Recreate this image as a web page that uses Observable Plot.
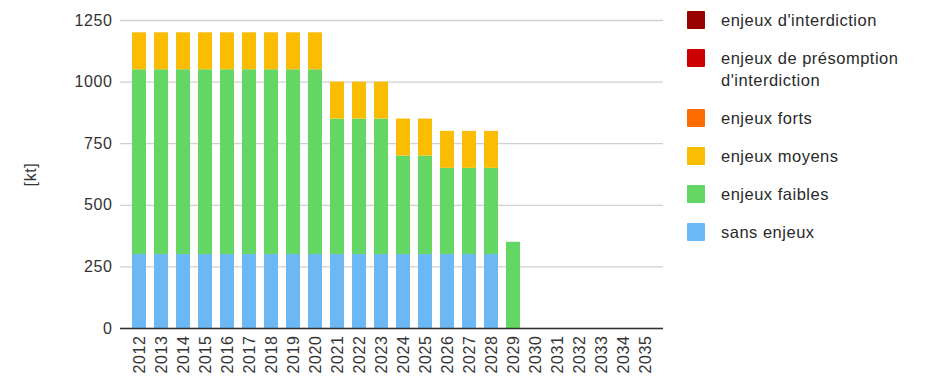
<!DOCTYPE html>
<html><head><meta charset="utf-8">
<script src="https://cdn.jsdelivr.net/npm/d3@7"></script>
<script src="https://cdn.jsdelivr.net/npm/@observablehq/plot@0.6"></script>
<style>
body{margin:0;background:#fff;font-family:"Liberation Sans",Arial,sans-serif;}
#wrap{position:relative;width:940px;height:381px;}
#chart{position:absolute;left:0;top:0;}
#legend{position:absolute;left:687px;top:9px;font-size:16.5px;letter-spacing:0.5px;color:#2a2a2a;}
.item{display:flex;align-items:flex-start;height:38px;}
.sw{width:18px;height:18px;margin-right:16px;margin-top:2px;flex:none;border-radius:1px;}
.lbl{line-height:22px;}
</style></head>
<body><div id="wrap"><div id="chart"></div><div id="legend"></div></div>
<script>
const years = ["2012","2013","2014","2015","2016","2017","2018","2019","2020","2021","2022","2023","2024","2025","2026","2027","2028","2029","2030","2031","2032","2033","2034","2035"];
const series = ["sans enjeux","enjeux faibles","enjeux moyens","enjeux forts","enjeux de présomption d'interdiction","enjeux d'interdiction"];
const colors = ["#6cb8f5","#63d663","#fbbc04","#ff6d01","#cc0000","#990000"];
const sansEnjeux    = [300,300,300,300,300,300,300,300,300,300,300,300,300,300,300,300,300,0,0,0,0,0,0,0];
const enjeuxFaibles = [750,750,750,750,750,750,750,750,750,550,550,550,400,400,350,350,350,350,0,0,0,0,0,0];
const enjeuxMoyens  = [150,150,150,150,150,150,150,150,150,150,150,150,150,150,150,150,150,0,0,0,0,0,0,0];
const enjeuxForts   = [0,0,0,0,0,0,0,0,0,0,0,0,0,0,0,0,0,0,0,0,0,0,0,0];
const enjeuxPresomption = [0,0,0,0,0,0,0,0,0,0,0,0,0,0,0,0,0,0,0,0,0,0,0,0];
const enjeuxInterdiction = [0,0,0,0,0,0,0,0,0,0,0,0,0,0,0,0,0,0,0,0,0,0,0,0];
const yTicks = [0,250,500,750,1000,1250];

const valueLists = [sansEnjeux, enjeuxFaibles, enjeuxMoyens, enjeuxForts, enjeuxPresomption, enjeuxInterdiction];
const data = [];
series.forEach((s, i) => years.forEach((y, j) => data.push({year: y, series: s, value: valueLists[i][j]})));

const chart = Plot.plot({
  width: 670, height: 381,
  marginTop: 20, marginBottom: 53, marginLeft: 120, marginRight: 7,
  style: {fontFamily: '"Liberation Sans",Arial,sans-serif', fontSize: "16px", color: "#333", letterSpacing: "0.6px"},
  x: {type: "band", domain: years, padding: 0.37, label: null, tickSize: 0, tickRotate: -90, tickPadding: 7},
  y: {domain: [0, 1250], ticks: yTicks, tickFormat: d => String(d), label: "[kt]", labelAnchor: "center", labelArrow: "none", labelOffset: 96, tickSize: 0, tickPadding: 8},
  color: {domain: series, range: colors},
  marks: [
    Plot.gridY(yTicks, {stroke: "#d0d0d0", strokeOpacity: 1, strokeWidth: 1.3}),
    Plot.barY(data, {x: "year", y: "value", fill: "series", order: series, inset: 0}),
    Plot.ruleY([0], {stroke: "#333", strokeWidth: 1.3})
  ]
});
document.getElementById("chart").appendChild(chart);

const legendItems = [
  {lines: ["enjeux d'interdiction"], c: "#990000"},
  {lines: ["enjeux de présomption", "d'interdiction"], c: "#cc0000"},
  {lines: ["enjeux forts"], c: "#ff6d01"},
  {lines: ["enjeux moyens"], c: "#fbbc04"},
  {lines: ["enjeux faibles"], c: "#63d663"},
  {lines: ["sans enjeux"], c: "#6cb8f5"}
];
const lg = document.getElementById("legend");
legendItems.forEach(it => {
  const d = document.createElement("div");
  d.className = "item";
  if (it.lines.length > 1) d.style.height = "60px";
  d.innerHTML = `<div class="sw" style="background:${it.c}"></div><div class="lbl">${it.lines.join("<br>")}</div>`;
  lg.appendChild(d);
});
</script></body></html>
